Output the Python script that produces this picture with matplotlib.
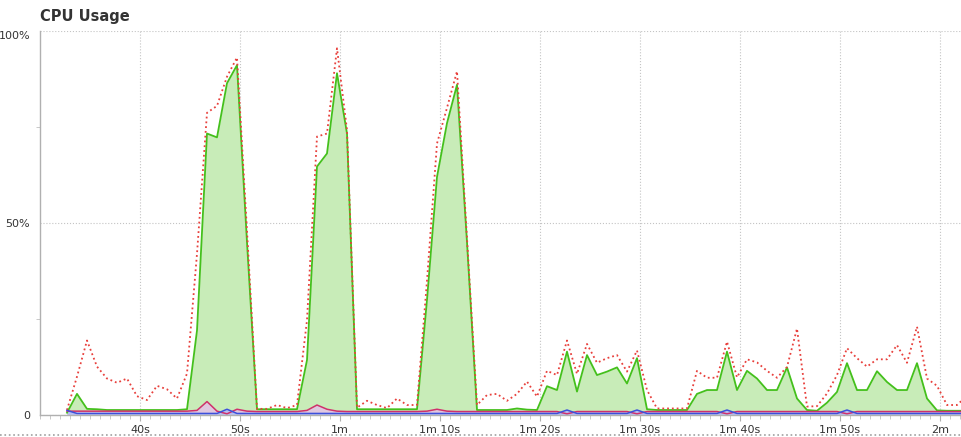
# CPU usage chart: user (green area), total (red dotted), system / other (bottom lines)
import matplotlib
matplotlib.use("Agg")
import matplotlib.pyplot as plt
import numpy as np
from matplotlib.lines import Line2D

# sample times: one sample per second starting at 32.7 s
t_start = 32.7

green = [0.6, 5.5, 1.6, 1.5, 1.3, 1.3, 1.3, 1.3, 1.3, 1.3,
         1.3, 1.3, 1.5, 22, 73.3, 72.3, 86.4, 91.1, 45, 1.5,
         1.5, 1.5, 1.5, 1.5, 14.3, 64.7, 68.1, 89, 73.3, 1.5,
         1.5, 1.5, 1.5, 1.5, 1.5, 1.5, 30, 62, 76, 86,
         45, 1.3, 1.3, 1.3, 1.3, 1.7, 1.4, 1.3, 7.5, 6.5,
         16.5, 6.1, 15.6, 10.4, 11.3, 12.4, 8.2, 14.8, 1.5, 1.3,
         1.3, 1.3, 1.3, 5.5, 6.5, 6.5, 16.5, 6.5, 11.5, 9.5,
         6.5, 6.5, 12.4, 4.3, 1.3, 1.1, 3.2, 6.0, 13.5, 6.5,
         6.5, 11.4, 8.6, 6.5, 6.5, 13.5, 4.3, 1.2, 1.1, 1.1,
         1.1]

red = [1.3, 10, 19.4, 12.6, 9.5, 8.4, 9.5, 4.9, 3.9, 7.6,
       6.7, 4.3, 10.8, 42, 78.7, 80.5, 88.1, 93.1, 48, 1.6,
       1.6, 2.6, 1.8, 2.6, 24.7, 72.5, 73.3, 95.5, 74.2, 1.9,
       3.7, 2.6, 1.8, 4.3, 2.6, 2.6, 35, 70.7, 80, 89.5,
       46, 2.6, 5.2, 5.5, 3.7, 5.5, 8.7, 4.8, 11.5, 10.4,
       19.4, 10.7, 18.5, 13.6, 14.8, 15.6, 11.3, 16.8, 6.5, 1.7,
       1.7, 1.7, 1.7, 11.5, 9.7, 9.7, 19.1, 9.8, 14.5, 13.7,
       11.5, 9.7, 12.5, 22.5, 2.2, 2.3, 5.6, 10.4, 17.4, 14.8,
       12.6, 14.5, 14.5, 18.2, 13.6, 23, 9.5, 7.6, 2.6, 2.6,
       5.0]

magenta = [1.0, 1.0, 1.0, 1.0, 1.0, 1.0, 1.0, 1.0, 1.0, 1.0,
           1.0, 1.0, 1.0, 1.2, 3.5, 1.0, 0.3, 1.5, 1.0, 0.9,
           0.9, 0.9, 0.9, 0.9, 1.2, 2.6, 1.5, 1.0, 0.9, 0.9,
           0.9, 0.9, 0.9, 0.9, 0.9, 0.9, 1.0, 1.5, 1.0, 0.9,
           0.9, 0.9, 0.9, 0.9, 0.9, 0.9, 0.9, 0.9, 0.9, 0.9,
           0.3, 0.9, 0.9, 0.9, 0.9, 0.9, 0.9, 0.3, 0.9, 0.9,
           0.9, 0.9, 0.9, 0.9, 0.9, 0.9, 0.3, 0.9, 0.9, 0.9,
           0.9, 0.9, 0.9, 0.9, 0.9, 0.9, 0.9, 0.9, 0.3, 0.9,
           0.9, 0.9, 0.9, 0.9, 0.9, 0.9, 0.9, 0.9, 0.9, 0.9,
           0.9]

blue = [1.2, 0.4, 0.4, 0.4, 0.4, 0.4, 0.4, 0.4, 0.4, 0.4,
        0.4, 0.4, 0.4, 0.4, 0.4, 0.4, 1.5, 0.4, 0.4, 0.4,
        0.4, 0.4, 0.4, 0.4, 0.4, 0.4, 0.4, 0.4, 0.4, 0.4,
        0.4, 0.4, 0.4, 0.4, 0.4, 0.4, 0.4, 0.4, 0.4, 0.4,
        0.4, 0.4, 0.4, 0.4, 0.4, 0.4, 0.4, 0.4, 0.4, 0.4,
        1.3, 0.4, 0.4, 0.4, 0.4, 0.4, 0.4, 1.3, 0.4, 0.4,
        0.4, 0.4, 0.4, 0.4, 0.4, 0.4, 1.3, 0.4, 0.4, 0.4,
        0.4, 0.4, 0.4, 0.4, 0.4, 0.4, 0.4, 0.4, 1.3, 0.4,
        0.4, 0.4, 0.4, 0.4, 0.4, 0.4, 0.4, 0.4, 0.4, 0.4,
        0.4]

x_ticks = [40, 50, 60, 70, 80, 90, 100, 110, 120]
x_labels = ["40s", "50s", "1m", "1m 10s", "1m 20s", "1m 30s",
            "1m 40s", "1m 50s", "2m"]
y_ticks = [0, 50, 100]
y_labels = ["0", "50%", "100%"]

t = t_start + np.arange(len(green))

fig = plt.figure(figsize=(9.62, 4.37), dpi=100)
ax = fig.add_axes([40 / 962, 22 / 437, 922 / 962, 384 / 437])

ax.fill_between(t, 0, green, color='#c8ecb8', lw=0, zorder=2)
ax.fill_between(t, 0, magenta, color='#e0c8e0', lw=0, zorder=3)
ax.fill_between(t, 0, blue, color='#b8bef0', lw=0, zorder=3)
ax.plot(t, green, c='#44c01c', lw=1.3, zorder=4)
ax.plot(t, red, c='#e8403c', lw=1.3, ls=':', zorder=5)
ax.plot(t, magenta, c='#d0306c', lw=1.1, zorder=6)
ax.plot(t, blue, c='#3c50dc', lw=1.1, zorder=6)

ax.set_xlim(30, 122.2)
ax.set_ylim(0, 100)

ax.set_xticks(x_ticks)
ax.set_xticklabels(x_labels)
ax.set_xticks(np.arange(30, 123, 1), minor=True)
ax.set_yticks(y_ticks)
ax.set_yticklabels(y_labels)
ax.set_yticks([25, 75], minor=True)

ax.tick_params(axis='x', which='major', length=4, color='#b0b0b0',
               labelsize=8, labelcolor='#333333', pad=3)
ax.tick_params(axis='x', which='minor', length=3, color='#c0c0c0')
ax.tick_params(axis='y', which='major', length=0, labelsize=8,
               labelcolor='#333333', pad=7)
ax.tick_params(axis='y', which='minor', length=3, color='#c0c0c0')
ax.get_yticklabels()[2].set_va('top')

ax.grid(which='major', ls=':', c='#c4c4c4', lw=0.8, zorder=1)
for s in ['top', 'right']:
    ax.spines[s].set_visible(False)
for s in ['left', 'bottom']:
    ax.spines[s].set_color('#b0b0b0')
    ax.spines[s].set_linewidth(1.0)
    ax.spines[s].set_zorder(7)

fig.text(40 / 962, 1 - 16 / 437, "CPU Usage", fontsize=10.5,
         fontweight='bold', color='#333333', ha='left', va='center')
fig.add_artist(Line2D([0, 1], [2 / 437, 2 / 437], transform=fig.transFigure,
                      ls=':', c='#a0a0a0', lw=1.2))

fig.savefig('out.png', dpi=100)
